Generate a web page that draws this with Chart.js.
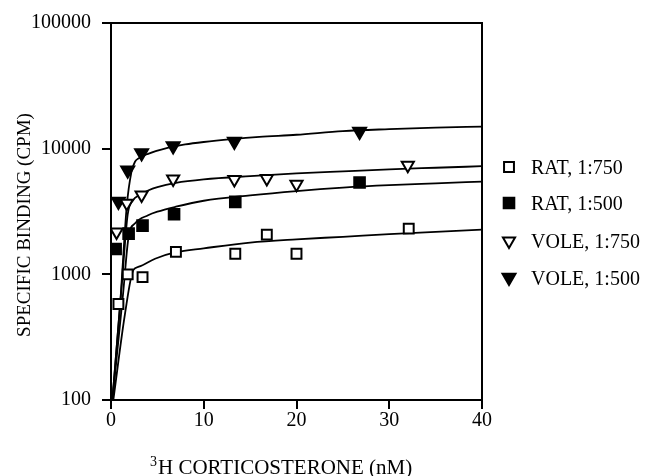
<!DOCTYPE html>
<html>
<head>
<meta charset="utf-8">
<script src="https://cdn.jsdelivr.net/npm/chart.js@4.4.1/dist/chart.umd.min.js"></script>
<style>
  html, body { margin: 0; padding: 0; background: #fff; }
  #wrap { width: 647px; height: 476px; }
</style>
</head>
<body>
<div id="wrap"><canvas id="binding" width="647" height="476"></canvas></div>
<script>
// measured points
const ratLowX = [0.8, 1.8, 3.4, 7.0, 13.4, 16.8, 20.0, 32.1];
const ratLowY = [580, 1000, 950, 1510, 1460, 2070, 1460, 2310];
const ratHighX = [0.5, 1.9, 3.4, 6.8, 13.4, 26.8];
const ratHighY = [1590, 2110, 2440, 3010, 3770, 5380];
const voleLowX = [0.6, 1.7, 3.3, 6.7, 13.3, 16.8, 20.0, 32.0];
const voleLowY = [2170, 3670, 4280, 5730, 5690, 5780, 5220, 7380];
const voleHighX = [0.8, 1.8, 3.3, 6.7, 13.3, 26.8];
const voleHighY = [3800, 6740, 9230, 10500, 11400, 13700];

// fitted curves
const ratLowFitX = [0.25, 1.5, 2.4, 3, 4.75, 7, 10, 15, 20, 25, 30, 35, 40];
const ratLowFitY = [100, 480, 1080, 1150, 1330, 1500, 1610, 1790, 1900, 1990, 2090, 2180, 2265];
const ratHighFitX = [0.15, 1.3, 1.9, 2.6, 4, 5, 7, 10, 15, 20, 25, 30, 35, 40];
const ratHighFitY = [100, 700, 2000, 2550, 2950, 3150, 3450, 3850, 4250, 4600, 4900, 5130, 5300, 5470];
const voleLowFitX = [0.15, 1.2, 1.8, 2.4, 3, 4, 5, 7, 10, 15, 20, 25, 30, 35, 40];
const voleLowFitY = [100, 900, 3000, 3900, 4250, 4650, 4950, 5350, 5700, 6050, 6350, 6600, 6850, 7050, 7250];
const voleHighFitX = [0.15, 1.0, 1.7, 2.2, 2.6, 3, 4, 6, 8, 10, 13, 16, 20, 25, 30, 35, 40];
const voleHighFitY = [100, 600, 3500, 6500, 7900, 8400, 9100, 10100, 10800, 11300, 11900, 12400, 12900, 13800, 14300, 14700, 15000];

const legendNames = ['RAT, 1:750', 'RAT, 1:500', 'VOLE, 1:750', 'VOLE, 1:500'];
const yTicks = [100, 1000, 10000, 100000];
const xTicks = [0, 10, 20, 30, 40];

const serif = '"Liberation Serif", "Times New Roman", serif';

function pts(xs, ys) {
  return xs.map((x, i) => ({x: x, y: ys[i]}));
}

function fitLine(xs, ys) {
  return {
    type: 'line',
    data: pts(xs, ys),
    borderColor: '#000',
    borderWidth: 1.8,
    pointRadius: 0,
    fill: false,
    cubicInterpolationMode: 'monotone',
    order: 2
  };
}

const markers = [
  {style: 'rect', rot: 0, radius: 7, fill: '#fff'},
  {style: 'rect', rot: 0, radius: 7.5, fill: '#000'},
  {style: 'triangle', rot: 180, radius: 7, fill: '#fff'},
  {style: 'triangle', rot: 180, radius: 7.5, fill: '#000'}
];

function scatterSet(i, xs, ys) {
  const m = markers[i];
  return {
    type: 'scatter',
    label: legendNames[i],
    data: pts(xs, ys),
    pointStyle: m.style,
    rotation: m.rot,
    pointRadius: m.radius,
    pointBackgroundColor: m.fill,
    pointBorderColor: '#000',
    pointBorderWidth: 2,
    showLine: false,
    order: 1
  };
}

// box around plot, axis titles and legend
const extras = {
  id: 'extras',
  afterDraw(chart) {
    const ctx = chart.ctx;
    const a = chart.chartArea;
    ctx.save();
    ctx.strokeStyle = '#000';
    ctx.lineWidth = 2;
    ctx.beginPath();
    ctx.moveTo(a.left, a.top);
    ctx.lineTo(a.right, a.top);
    ctx.lineTo(a.right, a.bottom);
    ctx.stroke();

    ctx.fillStyle = '#000';
    // x title with superscript
    ctx.textBaseline = 'alphabetic';
    ctx.textAlign = 'left';
    ctx.font = '14px ' + serif;
    ctx.fillText('3', 150, 466);
    ctx.font = '21px ' + serif;
    ctx.fillText('H CORTICOSTERONE (nM)', 158, 474);

    // y title
    ctx.save();
    ctx.translate(30, 225);
    ctx.rotate(-Math.PI / 2);
    ctx.textAlign = 'center';
    ctx.font = '19px ' + serif;
    ctx.fillText('SPECIFIC BINDING (CPM)', 0, 0);
    ctx.restore();

    // legend
    const rows = [174, 210, 248, 284.5];
    ctx.font = '20px ' + serif;
    legendNames.forEach((name, i) => {
      const m = markers[i];
      ctx.fillStyle = m.fill;
      ctx.strokeStyle = '#000';
      ctx.lineWidth = 2;
      Chart.helpers.drawPoint(ctx, {pointStyle: m.style, rotation: m.rot, radius: m.radius, borderWidth: 2}, 509, rows[i] - 7);
      ctx.fillStyle = '#000';
      ctx.fillText(name, 531, rows[i]);
    });
    ctx.restore();
  }
};

new Chart(document.getElementById('binding'), {
  data: {
    datasets: [
      fitLine(ratLowFitX, ratLowFitY),
      fitLine(ratHighFitX, ratHighFitY),
      fitLine(voleLowFitX, voleLowFitY),
      fitLine(voleHighFitX, voleHighFitY),
      scatterSet(0, ratLowX, ratLowY),
      scatterSet(1, ratHighX, ratHighY),
      scatterSet(2, voleLowX, voleLowY),
      scatterSet(3, voleHighX, voleHighY)
    ]
  },
  options: {
    responsive: false,
    animation: false,
    devicePixelRatio: 1,
    layout: {padding: {left: 0, top: 22, right: 165, bottom: 0}},
    plugins: {legend: {display: false}, tooltip: {enabled: false}},
    scales: {
      x: {
        type: 'linear',
        min: 0,
        max: 40,
        afterFit: s => { s.height = 76; },
        afterBuildTicks: s => { s.ticks = xTicks.map(v => ({value: v})); },
        border: {color: '#000', width: 2},
        grid: {drawOnChartArea: false, drawTicks: true, tickLength: 9, color: '#000', lineWidth: 2},
        ticks: {color: '#000', font: {family: serif, size: 20}, padding: 0, maxRotation: 0}
      },
      y: {
        type: 'logarithmic',
        min: 100,
        max: 100000,
        afterFit: s => { s.width = 111; },
        afterBuildTicks: s => { s.ticks = yTicks.map(v => ({value: v})); },
        border: {color: '#000', width: 2},
        grid: {drawOnChartArea: false, drawTicks: true, tickLength: 9, color: '#000', lineWidth: 2},
        ticks: {color: '#000', font: {family: serif, size: 20}, padding: 11, callback: v => String(v)}
      }
    }
  },
  plugins: [extras]
});
</script>
</body>
</html>
